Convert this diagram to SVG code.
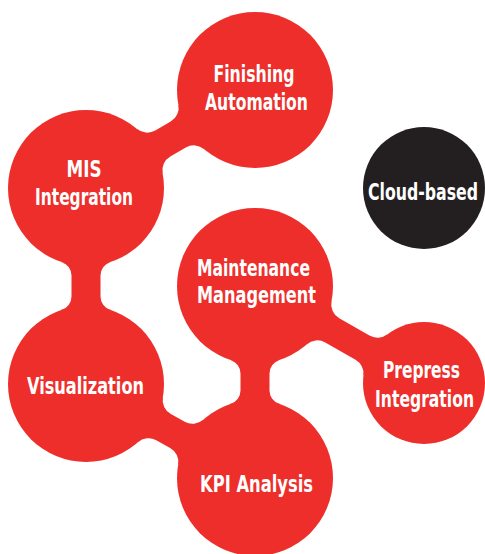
<svg xmlns="http://www.w3.org/2000/svg" width="485" height="554" viewBox="0 0 485 554">
<style>
.red{fill:#ED2E2A}
.blk{fill:#231F20}
.lbl{fill:#FFFFFF;font-family:"Liberation Sans Narrow","DejaVu Sans Condensed","Liberation Sans",sans-serif;font-weight:bold;font-size:23px;text-anchor:middle}
.sm{font-size:19px}
.xs{font-size:16px}
</style>
<rect width="485" height="554" fill="#FFFFFF"/>
<g id="connectors" class="red">
<path id="mis-finishing" d="M136.81 128.81 A16 16 0 0 0 155.25 130.51 L170.72 121.54 A16 16 0 0 0 178.39 104.69 L204.19 149.19 A16 16 0 0 0 185.76 147.5 L170.29 156.47 A16 16 0 0 0 162.61 173.31 Z"/>
<path id="mis-visualization" d="M110.16 262.16 A14 14 0 0 0 100.5 275.47 L100.5 296.53 A14 14 0 0 0 110.16 309.84 L61.84 309.84 A14 14 0 0 0 71.5 296.53 L71.5 275.47 A14 14 0 0 0 61.84 262.16 Z"/>
<path id="visualization-kpi" d="M162.85 397.32 A16 16 0 0 0 170.84 414.03 L184.74 421.76 A16 16 0 0 0 203.15 419.72 L178.15 464.68 A16 16 0 0 0 170.16 447.98 L156.26 440.25 A16 16 0 0 0 137.85 442.28 Z"/>
<path id="maintenance-kpi" d="M279.16 360.16 A14 14 0 0 0 269.5 373.47 L269.5 390.53 A14 14 0 0 0 279.16 403.84 L230.84 403.84 A14 14 0 0 0 240.5 390.53 L240.5 373.47 A14 14 0 0 0 230.84 360.16 Z"/>
<path id="maintenance-prepress" d="M331.5 301.21 A16 16 0 0 0 339.23 318.2 L369.46 335.56 A16 16 0 0 0 387.11 334.41 L363.45 375.65 A16 16 0 0 0 355.52 359.84 L325.29 342.48 A16 16 0 0 0 306.72 344.39 Z"/>
</g>
<g id="finishing-automation">
<circle class="red" cx="255" cy="90" r="78"/>
<text class="lbl" x="254" y="82" textLength="81" lengthAdjust="spacingAndGlyphs">Finishing</text>
<text class="lbl" x="256.5" y="110" textLength="103" lengthAdjust="spacingAndGlyphs">Automation</text>
</g>
<g id="mis-integration">
<circle class="red" cx="86" cy="188" r="78"/>
<text class="lbl" x="84" y="177" textLength="35" lengthAdjust="spacingAndGlyphs">MIS</text>
<text class="lbl" x="84" y="205" textLength="98" lengthAdjust="spacingAndGlyphs">Integration</text>
</g>
<g id="cloud-based">
<circle class="blk" cx="424" cy="188" r="61"/>
<text class="lbl xs" transform="translate(423 200) scale(1 1.43)" x="0" y="0" textLength="110" lengthAdjust="spacingAndGlyphs">Cloud-based</text>
</g>
<g id="maintenance-management">
<circle class="red" cx="255" cy="286" r="78"/>
<text class="lbl" x="253.5" y="276" textLength="113" lengthAdjust="spacingAndGlyphs">Maintenance</text>
<text class="lbl" x="256.5" y="303" textLength="119" lengthAdjust="spacingAndGlyphs">Management</text>
</g>
<g id="visualization">
<circle class="red" cx="86" cy="384" r="78"/>
<text class="lbl" x="85.5" y="394" textLength="117" lengthAdjust="spacingAndGlyphs">Visualization</text>
</g>
<g id="kpi-analysis">
<circle class="red" cx="255" cy="478" r="78"/>
<text class="lbl" x="256.5" y="492" textLength="113" lengthAdjust="spacingAndGlyphs">KPI Analysis</text>
</g>
<g id="prepress-integration">
<circle class="red" cx="424" cy="383" r="61"/>
<text class="lbl sm" transform="translate(421.5 378) scale(1 1.2)" x="0" y="0" textLength="77" lengthAdjust="spacingAndGlyphs">Prepress</text>
<text class="lbl sm" transform="translate(424.5 407) scale(1 1.2)" x="0" y="0" textLength="99" lengthAdjust="spacingAndGlyphs">Integration</text>
</g>
</svg>
